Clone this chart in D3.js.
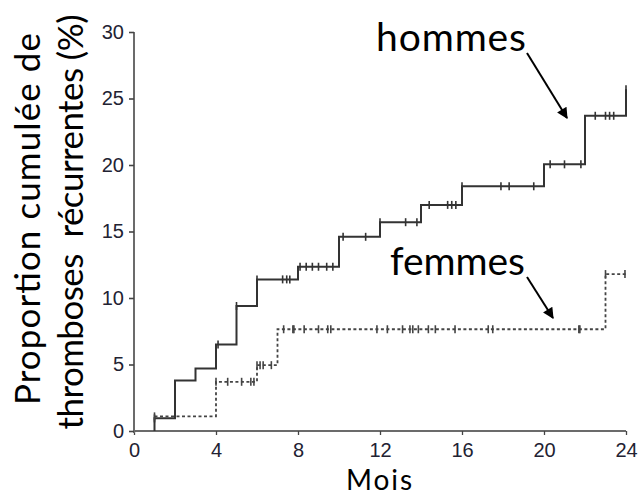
<!DOCTYPE html>
<html>
<head>
<meta charset="utf-8">
<script src="https://cdn.jsdelivr.net/npm/d3@7"></script>
<style>
  html, body { margin: 0; padding: 0; background: #fff; }
  svg { display: block; }
  .tick text { font-family: "Liberation Sans", Arial, sans-serif; fill: #222232; }
  .title { font-family: Lato, "Open Sans", sans-serif; fill: #000; white-space: pre; }
</style>
</head>
<body>
<svg id="chart" width="641" height="497"></svg>
<script>
// Cumulative recurrence (Kaplan-Meier style step curves), in months
const hommesTimes  = [1, 2, 3, 4, 5, 6, 8, 10, 12, 14, 16, 20, 22, 24];
const hommesValues = [0.95, 3.8, 4.7, 6.5, 9.4, 11.4, 12.35, 14.6, 15.7, 17.0, 18.4, 20.05, 23.7, 25.7];
const hommesCensored = [1.0, 4.1, 5.0, 6.0, 7.25, 7.45, 7.6, 8.1, 8.4, 8.7, 9.0, 9.4, 9.7, 10.2, 11.3,
  12.0, 13.25, 13.8, 14.4, 15.3, 15.5, 15.7, 16.0, 17.9, 18.3, 19.5, 20.3, 21.0, 21.8,
  22.5, 23.0, 23.2, 23.4, 24.0];

const femmesTimes  = [1, 4, 6, 7, 23];
const femmesValues = [1.1, 3.7, 4.95, 7.65, 11.8];
const femmesEnd = 24;
const femmesCensored = [1.0, 4.0, 4.57, 5.25, 5.7, 5.85, 6.0, 6.15, 6.3, 6.7, 7.3, 7.75, 7.8, 8.3, 9.0,
  9.45, 9.6, 11.85, 12.36, 13.1, 13.46, 13.6, 13.87, 14.36, 14.7, 15.66, 17.28, 17.5,
  21.7, 21.75, 23.0, 23.95];

const xTicks = [0, 4, 8, 12, 16, 20, 24];
const yTicks = [0, 5, 10, 15, 20, 25, 30];

const svg = d3.select("#chart");
const x = d3.scaleLinear().domain([0, 24]).range([134, 626]);
const y = d3.scaleLinear().domain([0, 30]).range([431, 32]);

// value of a step curve at time t (right-continuous)
function stepValue(times, values, t) {
  let v = 0;
  for (let i = 0; i < times.length; i++) if (times[i] <= t + 1e-9) v = values[i];
  return v;
}

// Axes
const xAxis = svg.append("g").attr("transform", `translate(0,${y(0)})`)
  .call(d3.axisBottom(x).tickValues(xTicks).tickSize(4).tickPadding(8));
const yAxis = svg.append("g").attr("transform", `translate(${x(0)},0)`)
  .call(d3.axisLeft(y).tickValues(yTicks).tickSize(5).tickPadding(5));
[xAxis, yAxis].forEach(g => {
  g.select(".domain").attr("stroke", "#6b6b6b").attr("stroke-width", 2);
  g.selectAll(".tick line").attr("stroke", "#444").attr("stroke-width", 1.3);
  g.selectAll(".tick text").style("font-size", "20px");
});
xAxis.select(".domain").attr("d", `M${x(0)},0H${x(24)}`);
yAxis.select(".domain").attr("d", `M0,${y(30)}V${y(0) + 2}`);
yAxis.selectAll(".tick line").attr("stroke-width", 1.6);

// Step curves
const line = d3.line().curve(d3.curveStepAfter).x(d => x(d[0])).y(d => y(d[1]));

// hommes: rises from 0 at month 1, last jump at month 24
const hommesPts = [[hommesTimes[0], 0]];
hommesTimes.forEach((t, i) => hommesPts.push([t, hommesValues[i]]));
svg.append("path").datum(hommesPts).attr("d", line)
  .attr("fill", "none").attr("stroke", "#333").attr("stroke-width", 2);

// femmes: dotted, held flat to the end of follow-up
const femmesPts = femmesTimes.map((t, i) => [t, femmesValues[i]]);
femmesPts.push([femmesEnd, femmesValues[femmesValues.length - 1]]);
svg.append("path").datum(femmesPts).attr("d", line)
  .attr("fill", "none").attr("stroke", "#444").attr("stroke-width", 1.8)
  .attr("stroke-dasharray", "3,2.5");

// Censoring marks
function censorMarks(times, series, values, color) {
  svg.append("g").selectAll("line").data(times).join("line")
    .attr("x1", d => x(d)).attr("x2", d => x(d))
    .attr("y1", d => y(stepValue(series, values, d)) - 4)
    .attr("y2", d => y(stepValue(series, values, d)) + 4)
    .attr("stroke", color).attr("stroke-width", 1.6);
}
censorMarks(hommesCensored, hommesTimes, hommesValues, "#333");
censorMarks(femmesCensored, femmesTimes, femmesValues, "#444");

// Labels with arrows
svg.append("defs").append("marker").attr("id", "arrow").attr("viewBox", "0 0 10 10")
  .attr("refX", 9).attr("refY", 5).attr("markerWidth", 13).attr("markerHeight", 11)
  .attr("markerUnits", "userSpaceOnUse").attr("orient", "auto")
  .append("path").attr("d", "M0,0L10,5L0,10z").attr("fill", "#000");

svg.append("text").attr("class", "title").attr("x", 376).attr("y", 51)
  .attr("textLength", 150).attr("lengthAdjust", "spacing")
  .style("font-size", "39px").text("hommes");
svg.append("line").attr("x1", 527).attr("y1", 53).attr("x2", 567).attr("y2", 118)
  .attr("stroke", "#000").attr("stroke-width", 2).attr("marker-end", "url(#arrow)");

svg.append("text").attr("class", "title").attr("x", 390).attr("y", 275)
  .attr("textLength", 135).attr("lengthAdjust", "spacing")
  .style("font-size", "39px").text("femmes");
svg.append("line").attr("x1", 527).attr("y1", 277).attr("x2", 553).attr("y2", 318)
  .attr("stroke", "#000").attr("stroke-width", 2).attr("marker-end", "url(#arrow)");

// Axis titles
svg.append("text").attr("class", "title").attr("text-anchor", "middle")
  .attr("transform", "translate(40,219) rotate(-90)")
  .attr("textLength", 372).attr("lengthAdjust", "spacing")
  .style("font-size", "35px").text("Proportion cumulée de");
svg.append("text").attr("class", "title").attr("text-anchor", "middle")
  .attr("transform", "translate(83,222) rotate(-90)")
  .attr("textLength", 415).attr("lengthAdjust", "spacing")
  .style("font-size", "35px").text("thromboses  récurrentes (%)");
svg.append("text").attr("class", "title").attr("text-anchor", "middle")
  .attr("x", 379).attr("y", 490).attr("textLength", 66).attr("lengthAdjust", "spacing")
  .style("font-size", "28px").text("Mois");
</script>
</body>
</html>
